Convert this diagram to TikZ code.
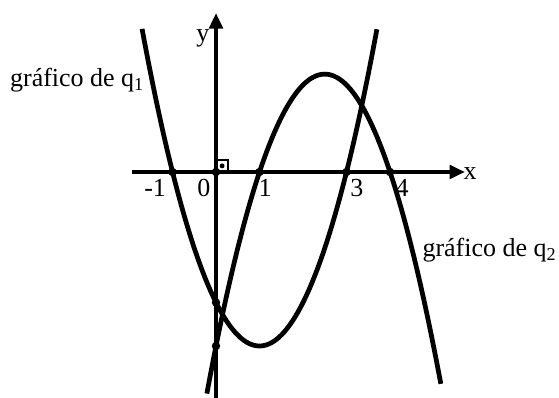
\documentclass[tikz,border=0pt]{standalone}
\usepackage{fontspec}
\setmainfont{Liberation Serif}
\usetikzlibrary{arrows.meta}
\begin{document}
\begin{tikzpicture}[x=1cm,y=1cm,
  curve/.style={line width=3.1pt},
  axis/.style={line width=2pt,-{Triangle[length=10pt,width=9pt]}},
  lbl/.style={font=\fontsize{17}{20}\selectfont,inner sep=0pt},
  pt/.style={circle,fill=black,inner sep=0pt,minimum size=5.5pt}]
\useasboundingbox (-4.966,-5.195) rectangle (7.885,3.954);
% axes
\coordinate (xs) at (-1.92,0);
\coordinate (xe) at (5.72,0);
\coordinate (ys) at (0,-5.2);
\coordinate (ye) at (0,3.65);
\draw[axis] (xs) -- (xe);
\draw[axis] (ys) -- (ye);
% right angle mark
\draw[line width=1.2pt] (0,0.28) -- (0.28,0.28) -- (0.28,0);
\fill (0.14,0.14) circle (1.6pt);
% curves
\draw[curve] plot[domain=-1.70:3.70,samples=120,smooth] (\x,{(\x)^2-2*\x-3});
\draw[curve] plot[domain=-0.21:5.17,samples=120,smooth] (\x,{-(\x)^2+5*\x-4});
% points
\node[pt] (pm1) at (-1,0) {};
\node[pt] (p0) at (0,0) {};
\node[pt] (p1) at (1,0) {};
\node[pt] (p3) at (3,0) {};
\node[pt] (p4) at (4,0) {};
\node[pt] (pq1) at (0,-3) {};
\node[pt] (pq2) at (0,-4) {};
% labels
\node[lbl] (lm1) at (-1.40,-0.36) {-1};
\node[lbl] (l0) at (-0.28,-0.36) {0};
\node[lbl] (l1) at (1.13,-0.36) {1};
\node[lbl] (l3) at (3.24,-0.36) {3};
\node[lbl] (l4) at (4.28,-0.36) {4};
\node[lbl] (lx) at (5.84,-0.04) {x};
\node[lbl] (ly) at (-0.30,3.08) {y};
\node[lbl,anchor=west] (g1) at (-4.74,2.12) {gráfico de q\textsubscript{1}};
\node[lbl,anchor=west] (g2) at (4.74,-1.80) {gráfico de q\textsubscript{2}};
\end{tikzpicture}
\end{document}
